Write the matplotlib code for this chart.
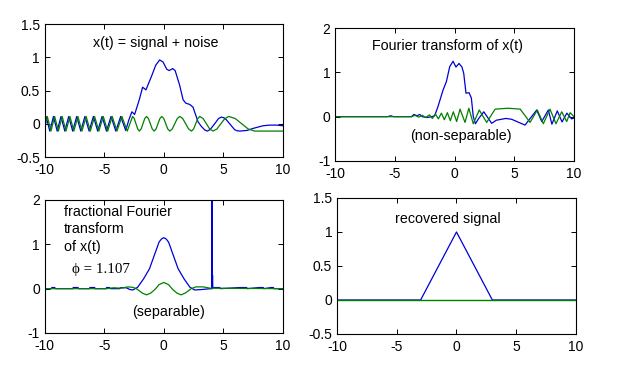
import numpy as np
import matplotlib
matplotlib.use("Agg")
import matplotlib.pyplot as plt

# --- x(t) = signal + noise ---
noise_t = [-10, -9.78, -9.47, -9.16, -8.85, -8.53, -8.21, -7.88, -7.55, -7.21,
           -6.87, -6.52, -6.17, -5.81, -5.45, -5.08, -4.71, -4.33, -3.93, -3.52,
           -3.07, -2.62, -2.48, -2.19, -2.05, -1.90, -1.60, -1.45, -1.29, -0.97,
           -0.81, -0.65, -0.33, -0.17, 0.00, 0.33, 0.50, 0.71, 1.13, 1.34,
           1.59, 2.08, 2.32, 2.50, 2.85, 3.02, 3.30, 3.85, 4.13, 4.46,
           5.12, 5.45, 6.00, 7.08, 7.63, 7.90, 10]
noise_x = [-0.08, 0.11, -0.11, 0.11, -0.11, 0.11, -0.11, 0.11, -0.11, 0.11,
           -0.11, 0.11, -0.11, 0.11, -0.11, 0.11, -0.11, 0.11, -0.11, 0.11,
           -0.11, 0.11, 0.078, -0.078, -0.11, -0.078, 0.078, 0.11, 0.078, -0.078,
           -0.11, -0.078, 0.078, 0.11, 0.078, -0.078, -0.11, -0.078, 0.078, 0.11,
           0.078, -0.078, -0.11, -0.078, 0.078, 0.11, 0.078, -0.078, -0.11, -0.078,
           0.078, 0.11, 0.078, -0.078, -0.11, -0.11, -0.11]
mix_t = [-10, -9.88, -9.57, -9.26, -8.95, -8.63, -8.31, -7.98, -7.65, -7.31,
         -6.97, -6.62, -6.27, -5.91, -5.55, -5.18, -4.81, -4.43, -4.03, -3.62,
         -3.20, -2.93, -2.68, -2.45, -2.06, -1.78, -1.50, -1.04, -0.68, -0.35,
         -0.07, 0.25, 0.45, 0.75, 0.95, 1.33, 1.62, 1.85, 2.18, 2.45,
         2.87, 3.15, 3.45, 3.66, 3.90, 4.27, 4.60, 4.84, 5.05, 5.25,
         5.95, 6.15, 6.37, 7.00, 7.49, 8.33, 8.88, 9.45, 10]
mix_x = [-0.07, 0.11, -0.11, 0.11, -0.11, 0.11, -0.11, 0.11, -0.11, 0.11,
         -0.11, 0.11, -0.11, 0.11, -0.11, 0.11, -0.11, 0.11, -0.11, 0.11,
         -0.10, 0.06, 0.18, 0.14, 0.36, 0.55, 0.51, 0.71, 0.88, 0.96,
         0.93, 0.82, 0.80, 0.83, 0.80, 0.58, 0.36, 0.31, 0.29, 0.25,
         0.03, -0.04, -0.095, -0.11, -0.085, 0.00, 0.08, 0.10, 0.09, 0.06,
         -0.09, -0.105, -0.11, -0.10, -0.07, -0.03, -0.02, -0.02, -0.03]

# --- Fourier transform of x(t) ---
ft_re_u = [-10, -5.6, -5.34, -5.1, -3.6, -3.4, -3.15, -2.9, -2.7, -2.3,
           -1.9, -1.66, -1.38, -0.96, -0.68, -0.40, -0.12, 0.12, 0.38, 0.62,
           0.77, 0.96, 1.22, 1.41, 1.57, 1.75, 2.0, 2.45, 3.11, 3.5,
           4.3, 4.79, 5.9, 6.88, 7.3, 7.85, 8.15, 8.6, 9.0, 9.4,
           9.8, 10]
ft_re = [0, 0, 0.02, 0, 0, 0.05, 0.02, 0.05, 0.0, -0.02,
         0.0, 0.02, 0.23, 0.60, 0.79, 1.13, 1.25, 1.12, 1.20, 1.12,
         0.98, 0.53, 0.54, 0.42, 0.0, -0.16, -0.05, 0.11, -0.15, -0.08,
         -0.04, -0.06, -0.19, 0.15, -0.11, 0.15, -0.17, 0.13, -0.12, 0.08,
         -0.05, -0.03]
ft_im_u = [-10, -3.6, -3.3, -3.0, -2.7, -2.4, -2.1, -1.85, -1.6, -1.35,
           -1.1, -0.85, -0.6, -0.35, -0.1, 0.18, 0.46, 0.88, 1.2, 1.57,
           2.07, 2.69, 3.4, 4.5, 5.5, 6.32, 6.93, 7.43, 7.99, 8.49,
           8.97, 9.39, 9.67, 10]
ft_im = [0, 0, 0.03, -0.01, 0.03, -0.02, 0.04, -0.04, 0.06, -0.05,
         0.08, -0.07, 0.09, -0.09, 0.11, -0.11, 0.17, -0.13, 0.19, -0.16,
         0.15, -0.13, 0.17, 0.19, 0.17, -0.13, 0.15, -0.16, 0.17, -0.16,
         0.11, -0.11, 0.09, 0.0]

# --- fractional Fourier transform, phi = 1.107 ---
frft_re_u = [-10, -9.45, -9.4, -9.15, -9.1, -7.65, -7.6, -7.2, -7.15, -6.25,
             -6.2, -5.8, -5.75, -4.85, -4.8, -4.55, -4.5, -3.7, -3.65, -3.15,
             -2.85, -2.6, -2.2, -1.7, -1.2, -0.8, -0.4, -0.2, 0.0, 0.2,
             0.4, 0.8, 1.2, 1.7, 2.2, 2.6, 3.16, 3.95, 4.04, 4.05,
             4.06, 4.09, 4.11, 4.7, 4.75, 6.35, 6.95, 7.0, 8.0, 8.35,
             8.4, 9.0, 9.2, 9.25, 10]
frft_re = [0, 0, 0.025, 0.025, 0, 0, 0.025, 0.025, 0, 0,
           0.025, 0.025, 0, 0, 0.025, 0.025, 0, 0, 0.02, 0.02,
           -0.02, -0.03, 0.03, 0.22, 0.45, 0.75, 1.05, 1.12, 1.15, 1.12,
           1.05, 0.75, 0.45, 0.22, 0.03, -0.03, -0.02, 0.0, 0.0, 2.6,
           0.0, 0.3, 0.025, 0.025, 0, 0.025, 0.025, 0, 0.025, 0.025,
           0, 0.025, 0.025, 0, 0]
frft_im_u = [-10, -4.8, -4.2, -3.6, -3.0, -2.6, -2.3, -1.8, -1.45, -1.1,
             -0.75, -0.4, 0.0, 0.4, 0.75, 1.1, 1.45, 1.8, 2.3, 2.7,
             3.3, 3.9, 10]
frft_im = [0, 0.0, 0.02, 0.01, 0.04, 0.03, 0.0, -0.10, -0.14, -0.10,
           -0.02, 0.09, 0.14, 0.09, -0.02, -0.10, -0.14, -0.10, 0.0, 0.04,
           0.04, 0.01, 0.0]

# --- recovered signal ---
rec_t = [-10, -3, 0, 3, 10]
rec_re = [0, 0, 1, 0, 0]
rec_im_t = [-10, 10]
rec_im = [0, 0]

BLUE = '#0000d8'
GREEN = '#008000'

plt.rcParams['font.family'] = ['Liberation Sans', 'DejaVu Sans']
plt.rcParams['font.size'] = 10

fig = plt.figure(figsize=(6.38, 3.69), dpi=100)
fig.patch.set_facecolor('white')


def make_axes(rect, ylim, yticks, yticklabels):
    ax = fig.add_axes(rect)
    ax.set_xlim(-10, 10)
    ax.set_ylim(*ylim)
    ax.set_xticks([-10, -5, 0, 5, 10])
    ax.set_xticklabels(['-10', '-5', '0', '5', '10'])
    ax.set_yticks(yticks)
    ax.set_yticklabels(yticklabels)
    ax.tick_params(direction='in', length=3.5, width=0.7, top=True,
                   right=True, labelsize=10, colors='black')
    ax.tick_params(axis='x', pad=4.5)
    ax.tick_params(axis='y', pad=3.5)
    for sp in ax.spines.values():
        sp.set_linewidth(0.8)
    return ax


ax1 = make_axes([0.070, 0.5745, 0.3735, 0.3604], (-0.5, 1.5),
                [-0.5, 0, 0.5, 1, 1.5], ['-0.5', '0', '0.5', '1', '1.5'])
ax1.plot(mix_t, mix_x, color=BLUE, lw=0.9)
ax1.plot(noise_t, noise_x, color=GREEN, lw=0.9)
ax1.text(-5.95, 1.21, 'x(t) = signal + noise', va='center', fontsize=10.3)

ax2 = make_axes([0.5251, 0.5637, 0.3746, 0.3604], (-1, 2),
                [-1, 0, 1, 2], ['-1', '0', '1', '2'])
ax2.plot(ft_re_u, ft_re, color=BLUE, lw=0.9)
ax2.plot(ft_im_u, ft_im, color=GREEN, lw=0.9)
ax2.text(-6.9, 1.6, 'Fourier transform of x(t)', va='center', fontsize=10.3)
ax2.text(-3.75, -0.44, '(non-separable)', va='center', fontsize=10.3)

ax3 = make_axes([0.070, 0.0976, 0.3735, 0.3604], (-1, 2),
                [-1, 0, 1, 2], ['-1', '0', '1', '2'])
ax3.plot(frft_re_u, frft_re, color=BLUE, lw=0.9)
ax3.plot(frft_im_u, frft_im, color=GREEN, lw=0.9)
ax3.text(-8.38, 1.74, 'fractional Fourier', va='center', fontsize=10.3)
ax3.text(-8.38, 1.35, 'transform', va='center', fontsize=10.3)
ax3.text(-8.38, 0.95, 'of x(t)', va='center', fontsize=10.3)
ax3.text(-7.74, 0.44, '\u03d5 = 1.107', va='center', fontsize=10.8,
         family=['Liberation Serif', 'DejaVu Serif'])
ax3.text(-2.62, -0.52, '(separable)', va='center', fontsize=10.3)

ax4 = make_axes([0.5282, 0.0949, 0.3746, 0.3686], (-0.5, 1.5),
                [-0.5, 0, 0.5, 1, 1.5], ['-0.5', '0', '0.5', '1', '1.5'])
ax4.plot(rec_t, rec_re, color=BLUE, lw=0.9)
ax4.plot(rec_im_t, rec_im, color=GREEN, lw=1.0)
ax4.text(-5.17, 1.19, 'recovered signal', va='center', fontsize=10.3)

fig.savefig('out.png', dpi=100, facecolor='white')
